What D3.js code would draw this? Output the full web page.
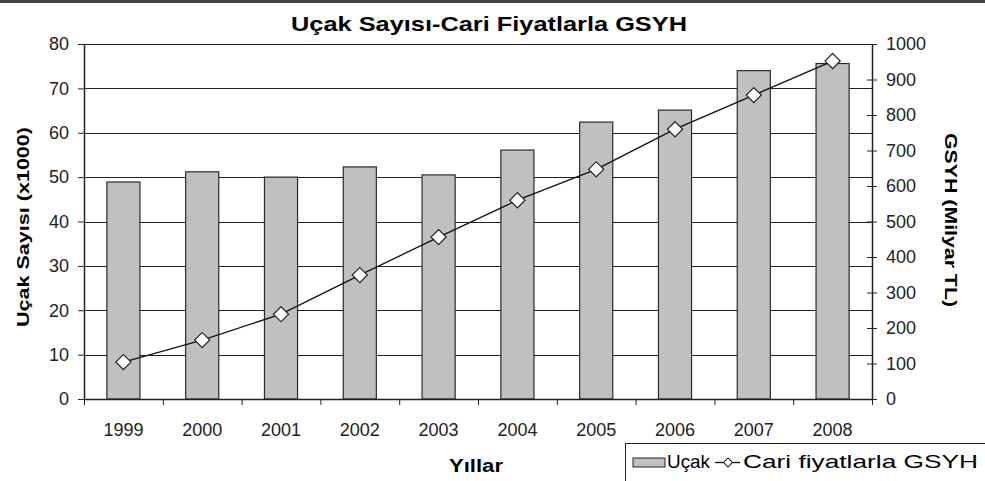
<!DOCTYPE html>
<html>
<head>
<meta charset="utf-8">
<script src="https://cdn.jsdelivr.net/npm/d3@7"></script>
<style>
  body { margin: 0; background: #fff; }
  svg { font-family: "Liberation Sans", Arial, sans-serif; }
  .axis path, .axis line { stroke: #222; }
  .axis text { fill: #222; font-size: 18px; }
</style>
</head>
<body>
<svg id="chart"></svg>
<script>
//data
const years = ['1999', '2000', '2001', '2002', '2003', '2004', '2005', '2006', '2007', '2008'];
const ucak = [48.9, 51.2, 50.0, 52.3, 50.5, 56.1, 62.4, 65.1, 74.0, 75.6];   // Uçak Sayısı (x1000)
const gsyh = [104, 166, 239, 349, 456, 560, 647, 760, 856, 952];            // GSYH (Milyar TL)
const leftTicks = [0, 10, 20, 30, 40, 50, 60, 70, 80];
const rightTicks = [0, 100, 200, 300, 400, 500, 600, 700, 800, 900, 1000];

//margin convention
const W = 985, H = 481;
const margin = { top: 44, left: 84, bottom: 82, right: 113 };
const width = W - margin.left - margin.right;
const height = H - margin.top - margin.bottom;

const root = d3.select('#chart').attr('width', W).attr('height', H);

// top border
root.append('rect')
  .attr('x', 0).attr('y', 0).attr('width', W).attr('height', 3)
  .attr('fill', '#444');

// title
root.append('text')
  .attr('x', 489).attr('y', 31)
  .attr('text-anchor', 'middle')
  .attr('textLength', 396).attr('lengthAdjust', 'spacingAndGlyphs')
  .style('font-size', '21px').style('font-weight', 'bold')
  .text('Uçak Sayısı-Cari Fiyatlarla GSYH');

const svg = root.append('g')
  .attr('transform', 'translate(' + margin.left + ',' + margin.top + ')');

//scales
const xScale = d3.scaleBand().domain(years).range([0, width]);
const xEdge = d3.scaleLinear().domain([0, years.length]).range([0, width]);
const yLeft = d3.scaleLinear().domain([0, 80]).range([height, 0]);
const yRight = d3.scaleLinear().domain([0, 1000]).range([height, 0]);

//gridlines
svg.append('g')
  .selectAll('line')
  .data(leftTicks)
  .enter()
  .append('line')
    .attr('x1', 0).attr('x2', width)
    .attr('y1', d => Math.round(yLeft(d)) + 0.5)
    .attr('y2', d => Math.round(yLeft(d)) + 0.5)
    .attr('stroke', '#222');

//bars
const barW = xScale.bandwidth() * 0.42;
svg.append('g')
  .selectAll('rect')
  .data(years)
  .enter()
  .append('rect')
    .attr('x', d => xScale(d) + (xScale.bandwidth() - barW) / 2)
    .attr('y', (d, i) => yLeft(ucak[i]))
    .attr('width', barW)
    .attr('height', (d, i) => height - yLeft(ucak[i]))
    .attr('fill', '#c0c0c0')
    .attr('stroke', '#2a2a2a')
    .attr('stroke-width', 1.2);

//x axis: boundary ticks + labels
svg.append('g')
  .attr('class', 'axis')
  .attr('transform', 'translate(0,' + height + ')')
  .call(d3.axisBottom(xEdge).tickValues(d3.range(years.length + 1)).tickFormat('').tickSize(6).tickSizeOuter(0))
  .select('.domain').attr('stroke-width', 1.5);

svg.append('g')
  .attr('class', 'axis')
  .attr('transform', 'translate(0,' + height + ')')
  .call(d3.axisBottom(xScale).tickSize(0).tickPadding(24))
  .call(g => g.select('.domain').remove());

//left axis
svg.append('g')
  .attr('class', 'axis')
  .call(d3.axisLeft(yLeft).tickValues(leftTicks).tickSize(6).tickSizeOuter(0).tickPadding(9))
  .select('.domain').attr('stroke-width', 1.5);

//right axis, ticks crossing
svg.append('g')
  .attr('class', 'axis')
  .attr('transform', 'translate(' + width + ',0)')
  .call(d3.axisRight(yRight).tickValues(rightTicks).tickFormat(d3.format('d')).tickSize(5).tickSizeOuter(0).tickPadding(9))
  .call(g => g.selectAll('.tick line').attr('x1', -5))
  .select('.domain').attr('stroke-width', 1.5);

//line
const line = d3.line()
  .x((d, i) => xScale(years[i]) + xScale.bandwidth() / 2)
  .y(d => yRight(d));

svg.append('path')
  .datum(gsyh)
  .attr('d', line)
  .attr('fill', 'none')
  .attr('stroke', '#111')
  .attr('stroke-width', 1.3);

//diamonds
const diamond = d3.symbol(d3.symbolSquare, 115);
svg.append('g')
  .selectAll('path')
  .data(gsyh)
  .enter()
  .append('path')
    .attr('d', diamond)
    .attr('transform', (d, i) => 'translate(' + (xScale(years[i]) + xScale.bandwidth() / 2) + ',' + yRight(d) + ') rotate(45)')
    .attr('fill', '#fff')
    .attr('stroke', '#222')
    .attr('stroke-width', 1.2);

//axis titles
root.append('text')
  .attr('transform', 'translate(29,227) rotate(-90)')
  .attr('text-anchor', 'middle')
  .attr('textLength', 200).attr('lengthAdjust', 'spacingAndGlyphs')
  .style('font-size', '17px').style('font-weight', 'bold')
  .text('Uçak Sayısı (x1000)');

root.append('text')
  .attr('transform', 'translate(945,220) rotate(90)')
  .attr('text-anchor', 'middle')
  .attr('textLength', 174).attr('lengthAdjust', 'spacingAndGlyphs')
  .style('font-size', '17px').style('font-weight', 'bold')
  .text('GSYH (Milyar TL)');

root.append('text')
  .attr('x', 476).attr('y', 472)
  .attr('text-anchor', 'middle')
  .attr('textLength', 54).attr('lengthAdjust', 'spacingAndGlyphs')
  .style('font-size', '18px').style('font-weight', 'bold')
  .text('Yıllar');

//legend
const lg = root.append('g').attr('transform', 'translate(625,443)');
lg.append('rect')
  .attr('x', 0.5).attr('y', 0.5).attr('width', 380).attr('height', 42)
  .attr('fill', '#fff').attr('stroke', '#222');
lg.append('rect')
  .attr('x', 8).attr('y', 15).attr('width', 32).attr('height', 9)
  .attr('fill', '#c0c0c0').attr('stroke', '#222');
lg.append('text')
  .attr('x', 42).attr('y', 25)
  .attr('textLength', 43).attr('lengthAdjust', 'spacingAndGlyphs')
  .style('font-size', '19px')
  .text('Uçak');
lg.append('line')
  .attr('x1', 90).attr('x2', 115).attr('y1', 19.5).attr('y2', 19.5)
  .attr('stroke', '#111').attr('stroke-width', 1.3);
lg.append('path')
  .attr('d', d3.symbol(d3.symbolSquare, 40))
  .attr('transform', 'translate(103,19.5) rotate(45)')
  .attr('fill', '#fff').attr('stroke', '#222');
lg.append('text')
  .attr('x', 118).attr('y', 25)
  .attr('textLength', 235).attr('lengthAdjust', 'spacingAndGlyphs')
  .style('font-size', '19px')
  .text('Cari fiyatlarla GSYH');
</script>
</body>
</html>
